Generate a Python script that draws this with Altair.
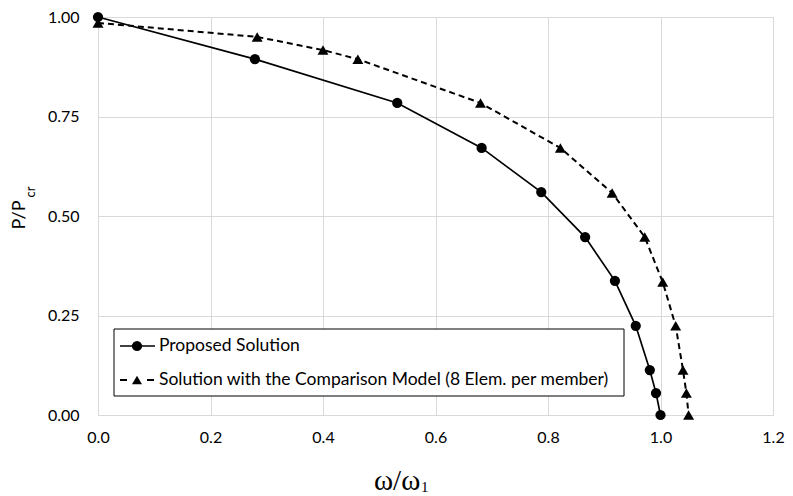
import altair as alt
import pandas as pd

# Proposed Solution
prop_x = [0.0, 0.279, 0.532, 0.682, 0.788, 0.866, 0.919, 0.956, 0.981, 0.992, 1.0]
prop_y = [1.0, 0.894, 0.784, 0.671, 0.560, 0.447, 0.337, 0.224, 0.113, 0.055, 0.0]
# Solution with the Comparison Model
comp_x = [0.0, 0.283, 0.400, 0.462, 0.680, 0.822, 0.914, 0.972, 1.004, 1.027, 1.040, 1.046, 1.050]
comp_y = [0.985, 0.950, 0.917, 0.894, 0.784, 0.671, 0.558, 0.447, 0.334, 0.224, 0.113, 0.055, 0.0]

legend_labels = ["Proposed Solution",
                 "Solution with the Comparison Model (8 Elem. per member)"]
x_ticks = [0.0, 0.2, 0.4, 0.6, 0.8, 1.0, 1.2]
y_ticks = [0.0, 0.25, 0.5, 0.75, 1.0]

W, H = 675, 398
FONT = "Lato"

prop = pd.DataFrame({"x": prop_x, "y": prop_y, "i": range(len(prop_x))})
comp = pd.DataFrame({"x": comp_x, "y": comp_y, "i": range(len(comp_x))})

xs = alt.Scale(domain=[0, 1.2], nice=False, zero=False)
ys = alt.Scale(domain=[0, 1], nice=False, zero=False)

xenc = alt.X("x:Q", scale=xs, axis=alt.Axis(values=x_ticks, format=".1f", title=None,
                                             grid=True, gridColor="#d9d9d9", domain=False,
                                             ticks=False, labelFont=FONT, labelFontSize=16,
                                             labelColor="#000000", labelPadding=14,
                                             labelFlush=False))
yenc = alt.Y("y:Q", scale=ys, axis=alt.Axis(values=y_ticks, format=".2f", title=None,
                                             grid=True, gridColor="#d9d9d9", domain=False,
                                             ticks=False, labelFont=FONT, labelFontSize=16,
                                             labelColor="#000000", labelPadding=19,
                                             labelFlush=False))

prop_line = alt.Chart(prop).mark_line(color="black", strokeWidth=1.7).encode(
    x=xenc, y=yenc, order="i:Q")
prop_pts = alt.Chart(prop).mark_point(shape="circle", filled=True, color="black",
                                      size=105, opacity=1).encode(x="x:Q", y="y:Q")
comp_line = alt.Chart(comp).mark_line(color="black", strokeWidth=2,
                                      strokeDash=[6, 4]).encode(x="x:Q", y="y:Q", order="i:Q")
comp_pts = alt.Chart(comp).mark_point(shape="triangle-up", filled=True, color="black",
                                      size=120, opacity=1).encode(x="x:Q", y="y:Q")

one = pd.DataFrame({"a": [0]})

# legend box
leg_box = alt.Chart(one).mark_rect(fill="white", stroke="#000000", strokeWidth=1).encode(
    x=alt.value(16), x2=alt.value(526), y=alt.value(312), y2=alt.value(379))
leg_l1 = alt.Chart(one).mark_rule(color="black", strokeWidth=1.7).encode(
    x=alt.value(22), x2=alt.value(57), y=alt.value(329))
leg_p1 = alt.Chart(one).mark_point(shape="circle", filled=True, color="black",
                                   size=105, opacity=1).encode(x=alt.value(39), y=alt.value(329))
leg_l2a = alt.Chart(one).mark_rule(color="black", strokeWidth=2).encode(
    x=alt.value(22), x2=alt.value(29), y=alt.value(363))
leg_l2b = alt.Chart(one).mark_rule(color="black", strokeWidth=2).encode(
    x=alt.value(49), x2=alt.value(56), y=alt.value(363))
leg_p2 = alt.Chart(one).mark_point(shape="triangle-up", filled=True, color="black",
                                   size=100, opacity=1).encode(x=alt.value(39), y=alt.value(363))
leg_t1 = alt.Chart(one).mark_text(text=legend_labels[0], font=FONT, fontSize=17.5,
                                  align="left", baseline="middle", color="black").encode(
    x=alt.value(61), y=alt.value(329))
leg_t2 = alt.Chart(one).mark_text(text=legend_labels[1], font=FONT, fontSize=17.5,
                                  align="left", baseline="middle", color="black").encode(
    x=alt.value(61), y=alt.value(363))

# axis titles with subscripts
yt_main = alt.Chart(one).mark_text(text="P/P", font=FONT, fontSize=18, angle=270,
                                   align="center", baseline="alphabetic", color="black").encode(
    x=alt.value(-73), y=alt.value(198))
yt_sub = alt.Chart(one).mark_text(text="cr", font=FONT, fontSize=13, angle=270,
                                  align="center", baseline="alphabetic", color="black").encode(
    x=alt.value(-63), y=alt.value(175))
xt_main = alt.Chart(one).mark_text(text="ω/ω", font="Liberation Serif", fontSize=29,
                                   align="left", baseline="alphabetic", color="black").encode(
    x=alt.value(276), y=alt.value(473))
xt_sub = alt.Chart(one).mark_text(text="1", font="Liberation Serif", fontSize=15,
                                  align="left", baseline="alphabetic", color="black").encode(
    x=alt.value(323), y=alt.value(475))

chart = alt.layer(
    prop_line, comp_line, prop_pts, comp_pts,
    leg_box, leg_l1, leg_p1, leg_l2a, leg_l2b, leg_p2, leg_t1, leg_t2,
    yt_main, yt_sub, xt_main, xt_sub,
).properties(
    width=W, height=H,
    autosize=alt.AutoSizeParams(type="none"),
    padding={"left": 90, "top": 9, "right": 12, "bottom": 80},
).configure_view(stroke=None).configure(background="white")

chart.save("out.html", embed_options={"renderer": "svg", "actions": False})
